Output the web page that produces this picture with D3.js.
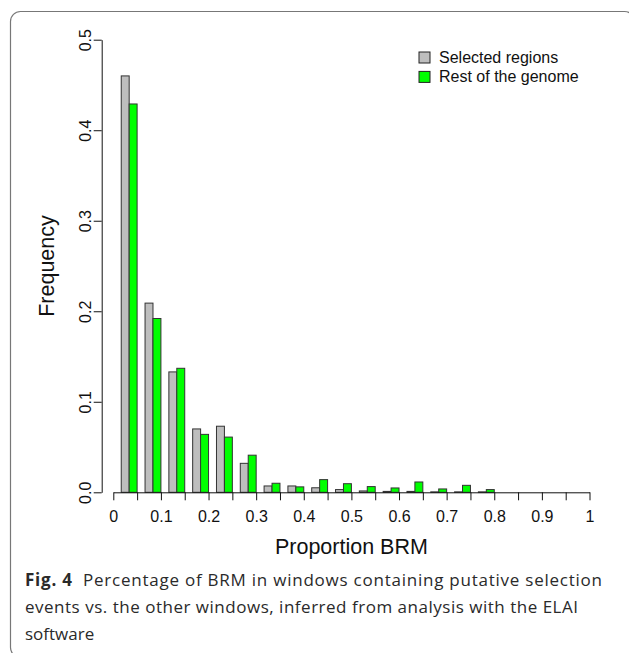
<!DOCTYPE html>
<html>
<head>
<meta charset="utf-8">
<script src="https://cdn.jsdelivr.net/npm/d3@7"></script>
<style>
	body { margin: 0; background: #fff; }
	svg { display: block; }
	.axis text { font-family: "Liberation Sans", Arial, sans-serif; font-size: 16px; fill: #111; }
	.axis path, .axis line { stroke: #111; stroke-width: 1; }
</style>
</head>
<body>
<svg id="chart" width="629" height="653"></svg>
<script>
// Bins of the histogram (lower edge of each 0.05 wide class)
const bins = ["0", "0.05", "0.1", "0.15", "0.2", "0.25", "0.3", "0.35", "0.4", "0.45",
	"0.5", "0.55", "0.6", "0.65", "0.7", "0.75", "0.8", "0.85", "0.9", "0.95"]

const seriesNames = ["Selected regions", "Rest of the genome"]

// Frequencies
const selectedRegions = [0.460, 0.209, 0.133, 0.070, 0.073, 0.032, 0.007, 0.007, 0.005, 0.003,
	0.0015, 0.001, 0.001, 0.0005, 0.0005, 0.0005, 0, 0, 0, 0]
const restOfGenome = [0.429, 0.192, 0.137, 0.064, 0.061, 0.041, 0.010, 0.006, 0.014, 0.0095,
	0.0063, 0.0048, 0.0114, 0.0037, 0.0077, 0.003, 0, 0, 0, 0]

const xTickValues = [0, 0.05, 0.1, 0.15, 0.2, 0.25, 0.3, 0.35, 0.4, 0.45, 0.5,
	0.55, 0.6, 0.65, 0.7, 0.75, 0.8, 0.85, 0.9, 0.95, 1]
const xTickLabels = ["0", "", "0.1", "", "0.2", "", "0.3", "", "0.4", "", "0.5",
	"", "0.6", "", "0.7", "", "0.8", "", "0.9", "", "1"]
const yTickValues = [0, 0.1, 0.2, 0.3, 0.4, 0.5]
const yTickLabels = ["0.0", "0.1", "0.2", "0.3", "0.4", "0.5"]

const colors = ["#bebebe", "#00ff00"]

const captionLines = [
	["Fig. 4", "Percentage of BRM in windows containing putative selection"],
	["", "events vs. the other windows, inferred from analysis with the ELAI"],
	["", "software"]
]
// widths of the caption lines in the reference (px)
const captionWidths = [577, 553, null];

(function() {
	let svg = d3.select("#chart")

	// frame around figure + caption
	svg.append("rect")
		.attr("x", 10.5).attr("y", 11.5)
		.attr("width", 624).attr("height", 646)
		.attr("rx", 10)
		.attr("fill", "none")
		.attr("stroke", "#777")
		.attr("stroke-width", 1.2)

	let x = d3.scaleLinear().domain([0, 1]).range([113.3, 589.5])
	let y = d3.scaleLinear().domain([0, 0.5]).range([492.3, 39.7])

	// one band per bin, each split as R barplot does: gap, gray, green
	let binBand = d3.scaleBand().domain(bins).range([x(0), x(1)]).padding(0)
	let inner = d3.scaleBand().domain(["gap"].concat(seriesNames))
		.range([0, binBand.bandwidth()]).padding(0)

	let series = [selectedRegions, restOfGenome]
	series.forEach((values, s) => {
		svg.append("g")
			.selectAll("rect")
			.data(values)
			.join("rect")
			.attr("x", (d, i) => binBand(bins[i]) + inner(seriesNames[s]))
			.attr("y", d => y(d))
			.attr("width", inner.bandwidth())
			.attr("height", d => y(0) - y(d))
			.attr("fill", colors[s])
			.attr("stroke", "#333")
			.attr("stroke-width", 1)
	})

	// X-Axis
	svg.append("g")
		.attr("class", "axis")
		.attr("transform", `translate(0, ${y(0)})`)
		.call(d3.axisBottom(x)
			.tickValues(xTickValues)
			.tickFormat((d, i) => xTickLabels[i])
			.tickSize(8).tickSizeOuter(0).tickPadding(10))

	// Y-Axis, labels turned like R's default las=0
	let yAxis = svg.append("g")
		.attr("class", "axis")
		.attr("transform", `translate(101.7, 0)`)
		.call(d3.axisLeft(y)
			.tickValues(yTickValues)
			.tickFormat((d, i) => yTickLabels[i])
			.tickSize(8).tickSizeOuter(0))
	yAxis.selectAll(".tick text")
		.attr("x", null).attr("dy", null)
		.attr("text-anchor", "middle")
		.attr("transform", "translate(-11, 0) rotate(-90)")

	// axis titles
	svg.append("text")
		.attr("x", (x(0) + x(1)) / 2)
		.attr("y", 554)
		.attr("text-anchor", "middle")
		.style("font-family", "'Liberation Sans', Arial, sans-serif")
		.style("font-size", "21.5px")
		.style("fill", "#111")
		.text("Proportion BRM")

	svg.append("text")
		.attr("transform", `translate(54.3, ${(y(0) + y(0.5)) / 2}) rotate(-90)`)
		.attr("text-anchor", "middle")
		.style("font-family", "'Liberation Sans', Arial, sans-serif")
		.style("font-size", "21.5px")
		.style("fill", "#111")
		.text("Frequency")

	// legend
	seriesNames.forEach((name, i) => {
		let legend = svg.append("g")
			.attr("transform", `translate(419, ${52 + i * 19.4})`)
		legend.append("rect")
			.attr("width", 11).attr("height", 11)
			.attr("fill", colors[i])
			.attr("stroke", "#222")
		legend.append("text")
			.attr("x", 20)
			.attr("y", 10.6)
			.style("font-family", "'Liberation Sans', Arial, sans-serif")
			.style("font-size", "16px")
			.style("fill", "#111")
			.text(name)
	})

	// caption; the two full lines are fitted to the reference widths
	let caption = svg.append("g")
		.style("font-family", "'Open Sans', 'Noto Sans', sans-serif")
		.style("font-size", "17px")
		.style("fill", "#2a2a2a")
	captionLines.forEach((line, i) => {
		let t = caption.append("text")
			.attr("x", 25)
			.attr("y", 586 + i * 27)
		if (captionWidths[i]) {
			t.attr("textLength", captionWidths[i]).attr("lengthAdjust", "spacing")
		}
		if (line[0]) {
			t.append("tspan").style("font-weight", "bold").text(line[0])
			t.append("tspan").text("\u00a0 " + line[1])
		} else {
			t.append("tspan").text(line[1])
		}
	})
})();
</script>
</body>
</html>
